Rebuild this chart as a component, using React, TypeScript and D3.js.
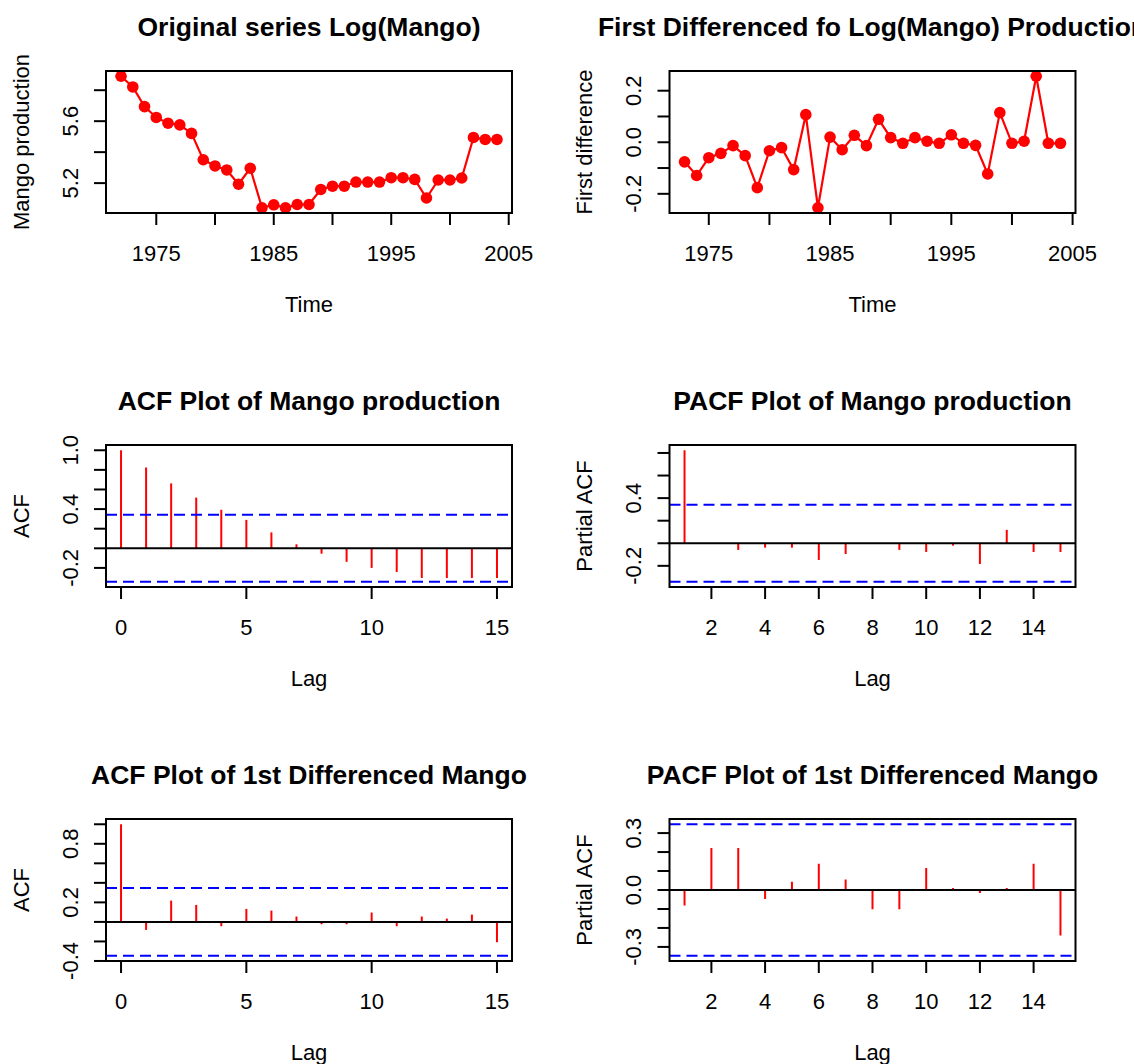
import React from 'react';
import * as d3 from 'd3';

// log(mango) series, 1972-2004
const years = [1972, 1973, 1974, 1975, 1976, 1977, 1978, 1979, 1980, 1981, 1982, 1983, 1984, 1985, 1986, 1987, 1988,
  1989, 1990, 1991, 1992, 1993, 1994, 1995, 1996, 1997, 1998, 1999, 2000, 2001, 2002, 2003, 2004];
const logMango = [5.89, 5.821, 5.694, 5.624, 5.587, 5.576, 5.521, 5.351, 5.311, 5.285, 5.193, 5.296, 5.041, 5.06,
  5.041, 5.062, 5.062, 5.159, 5.18, 5.18, 5.207, 5.207, 5.207, 5.235, 5.235, 5.224, 5.104, 5.22, 5.22, 5.233,
  5.495, 5.482, 5.482];

// first differences, 1973-2004
const diffYears = [1973, 1974, 1975, 1976, 1977, 1978, 1979, 1980, 1981, 1982, 1983, 1984, 1985, 1986, 1987, 1988,
  1989, 1990, 1991, 1992, 1993, 1994, 1995, 1996, 1997, 1998, 1999, 2000, 2001, 2002, 2003, 2004];
const diffMango = [-0.076, -0.129, -0.06, -0.043, -0.013, -0.052, -0.176, -0.033, -0.021, -0.106, 0.107, -0.254,
  0.02, -0.029, 0.027, -0.013, 0.089, 0.018, -0.004, 0.018, 0.004, -0.004, 0.029, -0.004, -0.012, -0.123, 0.115,
  -0.004, 0.004, 0.256, -0.004, -0.004];

const acfLags = [0, 1, 2, 3, 4, 5, 6, 7, 8, 9, 10, 11, 12, 13, 14, 15];
const pacfLags = [1, 2, 3, 4, 5, 6, 7, 8, 9, 10, 11, 12, 13, 14, 15];

const acfMango = [1, 0.824, 0.662, 0.517, 0.393, 0.29, 0.162, 0.041, -0.055, -0.138, -0.2, -0.241, -0.303, -0.303,
  -0.303, -0.303];
const pacfMango = [0.824, -0.005, -0.059, -0.039, -0.039, -0.148, -0.095, -0.006, -0.059, -0.077, -0.021, -0.184,
  0.119, -0.077, -0.077];
const acfDiff = [1, -0.082, 0.218, 0.174, -0.044, 0.133, 0.116, 0.055, -0.024, -0.024, 0.096, -0.044, 0.055, 0.034,
  0.075, -0.208];
const pacfDiff = [-0.082, 0.222, 0.222, -0.048, 0.044, 0.139, 0.055, -0.102, -0.102, 0.116, 0.011, -0.016, 0.011,
  0.139, -0.24];

// 95% bounds, 1.96/sqrt(n)
const climMango = 0.341;
const climDiff = 0.3465;

const yearTicks = [1975, 1980, 1985, 1990, 1995, 2000, 2005];
const yearLabels = [1975, 1985, 1995, 2005];
const acfXTicks = [0, 5, 10, 15];
const pacfXTicks = [2, 4, 6, 8, 10, 12, 14];

const FONT = '"Liberation Sans", Arial, Helvetica, sans-serif';
const PW = 406;
const PH = 142;
const colX = [106, 669.5];
const rowY = [71, 445, 819];

// R pads axis ranges by 4%
const pad = (lo, hi) => {
  const d = (hi - lo) * 0.04;
  return [lo - d, hi + d];
};
const fmt = (v) => v.toFixed(1);

function Panel({ left, top, title, xlab, ylab, xDomain, yDomain, xTicks, xLabels, yTicks, yLabels, yFmt, draw }) {
  const x = d3.scaleLinear().domain(xDomain).range([left, left + PW]);
  const y = d3.scaleLinear().domain(yDomain).range([top + PH, top]);
  const bottom = top + PH;
  const cx = left + PW / 2;
  return (
    <g>
      <text x={cx} y={top - 44} textAnchor="middle" dominantBaseline="central" fontSize={26.5} fontWeight="bold">
        {title}
      </text>
      <defs>
        <clipPath id={'c' + left + '_' + top}>
          <rect x={left} y={top} width={PW} height={PH} />
        </clipPath>
      </defs>
      <g clipPath={`url(#c${left}_${top})`}>{draw(x, y)}</g>
      <rect x={left} y={top} width={PW} height={PH} fill="none" stroke="#000" strokeWidth={2} />
      {xTicks.map((t) => (
        <line key={'xt' + t} x1={x(t)} x2={x(t)} y1={bottom} y2={bottom + 12} stroke="#000" strokeWidth={2} />
      ))}
      {xLabels.map((t) => (
        <text key={'xl' + t} x={x(t)} y={bottom + 40} textAnchor="middle" dominantBaseline="central" fontSize={22}>
          {t}
        </text>
      ))}
      {yTicks.map((t) => (
        <line key={'yt' + t} x1={left - 12} x2={left} y1={y(t)} y2={y(t)} stroke="#000" strokeWidth={2} />
      ))}
      {yLabels.map((t) => (
        <text key={'yl' + t} transform={`translate(${left - 36},${y(t)}) rotate(-90)`} textAnchor="middle"
          dominantBaseline="central" fontSize={22}>
          {yFmt(t)}
        </text>
      ))}
      <text x={cx} y={bottom + 91} textAnchor="middle" dominantBaseline="central" fontSize={22}>{xlab}</text>
      <text transform={`translate(${left - 85},${top + PH / 2}) rotate(-90)`} textAnchor="middle"
        dominantBaseline="central" fontSize={22}>
        {ylab}
      </text>
    </g>
  );
}

const seriesDraw = (xs, vs) => (x, y) => {
  const line = d3.line().x((d) => x(d[0])).y((d) => y(d[1]));
  const pts = xs.map((t, i) => [t, vs[i]]);
  return (
    <g>
      <path d={line(pts)} fill="none" stroke="#ff0000" strokeWidth={2.2} />
      {pts.map((p, i) => (
        <circle key={i} cx={x(p[0])} cy={y(p[1])} r={5.8} fill="#ff0000" />
      ))}
    </g>
  );
};

const acfDraw = (lags, vals, clim) => (x, y) => {
  const [x0, x1] = x.range();
  return (
    <g>
      {lags.map((l, i) => (
        <line key={l} x1={x(l)} x2={x(l)} y1={y(0)} y2={y(vals[i])} stroke="#ff0000" strokeWidth={2} />
      ))}
      <line x1={x0} x2={x1} y1={y(0)} y2={y(0)} stroke="#000" strokeWidth={2} />
      {[clim, -clim].map((c) => (
        <line key={c} x1={x0} x2={x1} y1={y(c)} y2={y(c)} stroke="#0000ff" strokeWidth={2} strokeDasharray="11,6" />
      ))}
    </g>
  );
};

export default function App() {
  const acfRange = (vals, clim) => pad(Math.min(-clim, d3.min(vals)), Math.max(clim, d3.max(vals)));
  return (
    <svg width={1134} height={1064} style={{ position: 'absolute', left: 0, top: 0, background: '#fff' }}
      fontFamily={FONT}>
      <rect width={1134} height={1064} fill="#fff" />
      <Panel left={colX[0]} top={rowY[0]} title="Original series Log(Mango)" xlab="Time" ylab="Mango production"
        xDomain={pad(d3.min(years), d3.max(years))} yDomain={pad(d3.min(logMango), d3.max(logMango))}
        xTicks={yearTicks} xLabels={yearLabels} yTicks={[5.2, 5.4, 5.6, 5.8]} yLabels={[5.2, 5.6]} yFmt={fmt}
        draw={seriesDraw(years, logMango)} />
      <Panel left={colX[1]} top={rowY[0]} title="First Differenced fo Log(Mango) Production" xlab="Time"
        ylab="First difference" xDomain={pad(d3.min(diffYears), d3.max(diffYears))}
        yDomain={pad(d3.min(diffMango), d3.max(diffMango))} xTicks={yearTicks} xLabels={yearLabels}
        yTicks={[-0.2, -0.1, 0, 0.1, 0.2]} yLabels={[-0.2, 0, 0.2]} yFmt={fmt} draw={seriesDraw(diffYears, diffMango)} />
      <Panel left={colX[0]} top={rowY[1]} title="ACF Plot of Mango production" xlab="Lag" ylab="ACF"
        xDomain={pad(0, 15)} yDomain={acfRange(acfMango, climMango)} xTicks={acfXTicks} xLabels={acfXTicks}
        yTicks={[-0.2, 0, 0.2, 0.4, 0.6, 0.8, 1.0]} yLabels={[-0.2, 0.4, 1.0]} yFmt={fmt}
        draw={acfDraw(acfLags, acfMango, climMango)} />
      <Panel left={colX[1]} top={rowY[1]} title="PACF Plot of Mango production" xlab="Lag" ylab="Partial ACF"
        xDomain={pad(1, 15)} yDomain={acfRange(pacfMango, climMango)} xTicks={pacfXTicks} xLabels={pacfXTicks}
        yTicks={[-0.2, 0, 0.2, 0.4, 0.6, 0.8]} yLabels={[-0.2, 0.4]} yFmt={fmt}
        draw={acfDraw(pacfLags, pacfMango, climMango)} />
      <Panel left={colX[0]} top={rowY[2]} title="ACF Plot of 1st Differenced Mango" xlab="Lag" ylab="ACF"
        xDomain={pad(0, 15)} yDomain={acfRange(acfDiff, climDiff)} xTicks={acfXTicks} xLabels={acfXTicks}
        yTicks={[-0.4, -0.2, 0, 0.2, 0.4, 0.6, 0.8, 1.0]} yLabels={[-0.4, 0.2, 0.8]} yFmt={fmt}
        draw={acfDraw(acfLags, acfDiff, climDiff)} />
      <Panel left={colX[1]} top={rowY[2]} title="PACF Plot of 1st Differenced Mango" xlab="Lag" ylab="Partial ACF"
        xDomain={pad(1, 15)} yDomain={acfRange(pacfDiff, climDiff)} xTicks={pacfXTicks} xLabels={pacfXTicks}
        yTicks={[-0.3, -0.2, -0.1, 0, 0.1, 0.2, 0.3]} yLabels={[-0.3, 0, 0.3]} yFmt={fmt}
        draw={acfDraw(pacfLags, pacfDiff, climDiff)} />
    </svg>
  );
}
